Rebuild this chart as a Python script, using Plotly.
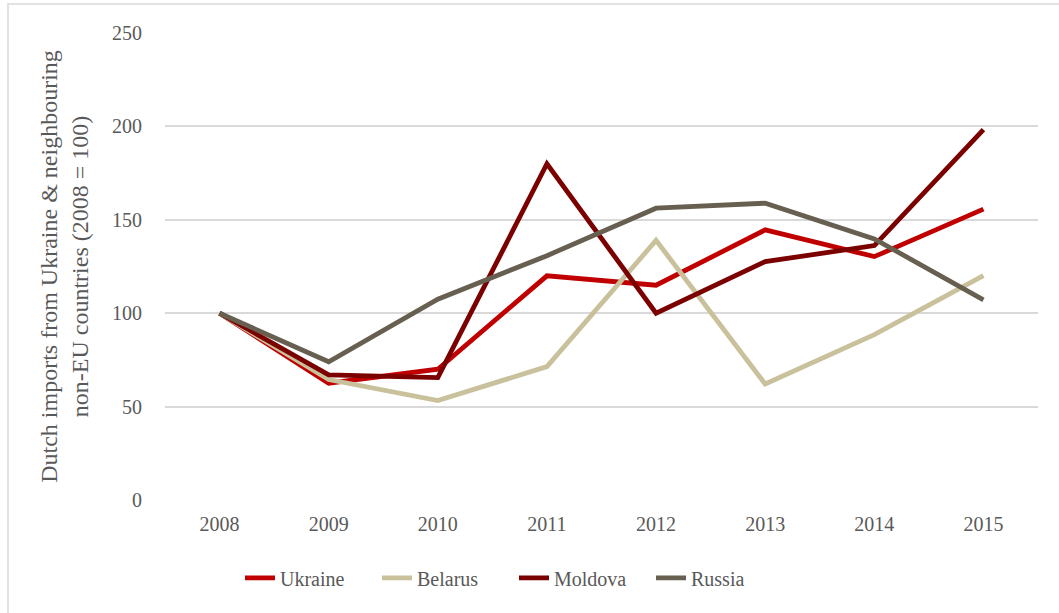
import plotly.graph_objects as go

years = ["2008", "2009", "2010", "2011", "2012", "2013", "2014", "2015"]
ukraine = [100, 62.5, 70, 120, 115, 144.6, 130.3, 155.7]
belarus = [100, 64.5, 53.2, 71.4, 139, 62.1, 88.5, 120.1]
moldova = [100, 67, 65.5, 180, 100, 127.6, 136.2, 198.3]
russia = [100, 74, 107.5, 130.8, 156.2, 158.9, 139.8, 107.1]

series = [
    ("Ukraine", ukraine, "#C00000"),
    ("Belarus", belarus, "#C9C19C"),
    ("Moldova", moldova, "#7B0000"),
    ("Russia", russia, "#675F50"),
]

W, H = 1059, 613
L, R, T, B = 165, 21, 33, 113

fig = go.Figure()
for name, vals, col in series:
    fig.add_trace(go.Scatter(x=years, y=vals, name=name, mode="lines",
                             line=dict(color=col, width=4.8)))

font = "Liberation Serif, 'Times New Roman', serif"
fig.update_layout(
    width=W, height=H,
    margin=dict(l=L, r=R, t=T, b=B),
    paper_bgcolor="white", plot_bgcolor="white",
    font=dict(family=font, size=20, color="#595959"),
    showlegend=True,
    legend=dict(orientation="h", x=(240 - L) / (W - L - R), xanchor="left", y=-0.125, yanchor="top",
                font=dict(size=20, color="#595959"), itemwidth=30,
                entrywidth=92, entrywidthmode="pixels",
                tracegroupgap=0),
    xaxis=dict(type="category", range=[-0.5, 7.5], showgrid=False, zeroline=False,
               showline=False, ticks="", tickfont=dict(size=20), ticklabelstandoff=10),
    yaxis=dict(range=[0, 250], dtick=50, showgrid=True, gridcolor="#D9D9D9", gridwidth=1.5,
               zeroline=False, showline=False, ticks="", tickfont=dict(size=20),
               ticklabelstandoff=22,
               title=dict(text="Dutch imports from Ukraine & neighbouring<br>non-EU countries (2008 = 100)",
                          font=dict(size=24), standoff=16)),
)

pw = W - L - R
ph = H - T - B
fig.add_shape(type="rect", xref="paper", yref="paper",
              x0=(8 - L) / pw, x1=(W + 10 - L) / pw,
              y0=(H - B - 4) / ph, y1=(H - B - 630) / ph,
              line=dict(color="#D9D9D9", width=1.5), fillcolor="rgba(0,0,0,0)", layer="below")

fig.write_html("out.html")
